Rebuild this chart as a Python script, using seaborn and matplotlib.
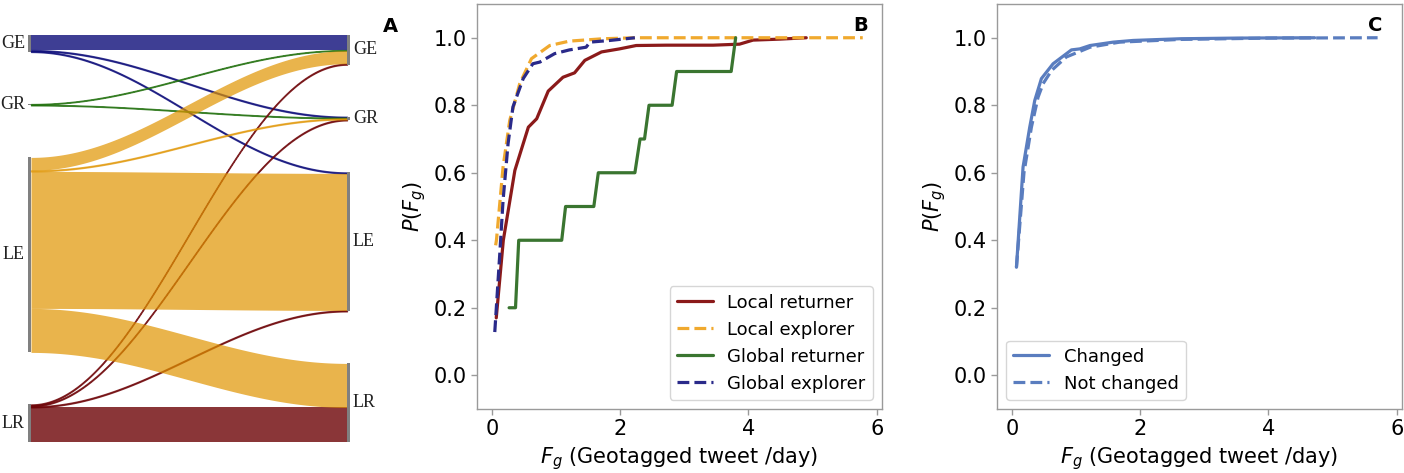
import numpy as np
import pandas as pd
import seaborn as sns
import matplotlib.pyplot as plt

# ---------------- data ----------------
# Panel A: class transitions (left = before, right = after)
classes = ["GE", "GR", "LE", "LR"]
flow_src = ["GE", "GE", "GE", "GR", "GR", "LE", "LE", "LE", "LE", "LR", "LR", "LR", "LR"]
flow_dst = ["GE", "GR", "LE", "GE", "GR", "GE", "GR", "LE", "LR", "GE", "GR", "LE", "LR"]
flow_val = [15, 1, 1, 0.7, 0.7, 13, 1, 137, 44, 1, 1, 1, 35]
class_colors = {"GE": "#0d0d7a", "GR": "#1e6e0a", "LE": "#e09400", "LR": "#6d0306"}
class_alpha = {"GE": 0.8, "GR": 0.8, "LE": 0.7, "LR": 0.8}
draw_order = ["GE", "GR", "LR", "LE"]

# Panel B: CDF of geotagged tweet frequency per mobility class
lr_x = [0.07, 0.18, 0.36, 0.57, 0.70, 0.88, 1.11, 1.29, 1.45, 1.71, 1.99, 2.25, 2.72, 3.45, 3.86, 4.07, 4.50, 4.90]
lr_y = [0.17, 0.40, 0.607, 0.735, 0.76, 0.842, 0.883, 0.896, 0.933, 0.958, 0.967, 0.977, 0.978, 0.978, 0.981, 0.993, 0.996, 1.0]

le_x = [0.06, 0.073, 0.176, 0.28, 0.436, 0.618, 0.903, 1.21, 1.73, 2.25, 3.5, 5.78]
le_y = [0.385, 0.40, 0.617, 0.755, 0.864, 0.938, 0.977, 0.99, 0.997, 1.0, 1.0, 1.0]

gr_x = [0.27, 0.37, 0.42, 1.09, 1.15, 1.59, 1.66, 2.23, 2.31, 2.38, 2.45, 2.81, 2.88, 3.73, 3.80]
gr_y = [0.2, 0.2, 0.4, 0.4, 0.5, 0.5, 0.6, 0.6, 0.7, 0.7, 0.8, 0.8, 0.9, 0.9, 1.0]

ge_x = [0.047, 0.125, 0.176, 0.254, 0.33, 0.49, 0.64, 0.75, 0.98, 1.21, 1.47, 1.53, 1.84, 2.23]
ge_y = [0.128, 0.36, 0.518, 0.686, 0.795, 0.879, 0.923, 0.928, 0.953, 0.964, 0.972, 0.987, 0.992, 1.0]

# Panel C: changed vs not changed
ch_x = [0.073, 0.176, 0.28, 0.358, 0.462, 0.644, 0.93, 1.06, 1.22, 1.58, 1.89, 2.62, 3.5, 4.72]
ch_y = [0.32, 0.617, 0.735, 0.814, 0.879, 0.923, 0.964, 0.967, 0.977, 0.987, 0.992, 0.997, 0.999, 1.0]

nc_x = [0.073, 0.19, 0.306, 0.41, 0.488, 0.62, 0.85, 1.22, 1.68, 2.62, 4.0, 5.70]
nc_y = [0.32, 0.60, 0.735, 0.824, 0.864, 0.903, 0.943, 0.972, 0.987, 0.995, 0.999, 1.0]

# ---------------- style ----------------
sns.set_style("ticks")
plt.rcParams["font.family"] = ["DejaVu Sans"]
plt.rcParams["text.color"] = "black"
plt.rcParams["axes.labelcolor"] = "black"
plt.rcParams["axes.edgecolor"] = "#9a9a9a"
plt.rcParams["xtick.color"] = "#9a9a9a"
plt.rcParams["ytick.color"] = "#9a9a9a"
plt.rcParams["xtick.labelcolor"] = "black"
plt.rcParams["ytick.labelcolor"] = "black"

fig = plt.figure(figsize=(14.04, 4.73), dpi=100)

# ---------------- panel A: sankey ----------------
axA = fig.add_axes([0, 0, 420 / 1404, 1])
axA.axis("off")
axA.set_xlim(-28, 392)
axA.set_ylim(438, -35)

gap = 52
x_left, x_right = 3, 319

flows = pd.DataFrame({"src": flow_src, "dst": flow_dst, "val": flow_val})
left_size = flows.groupby("src")["val"].sum().reindex(classes)
right_size = flows.groupby("dst")["val"].sum().reindex(classes)

left_top, right_top = {}, {}
pos = 0
for c in classes:
    left_top[c] = pos
    pos += left_size[c] + gap
pos = 0
for c in classes:
    right_top[c] = pos
    pos += right_size[c] + gap

# stacking offsets of each flow inside its nodes
left_off = dict(left_top)
right_off = dict(right_top)
bands = {}
for src in classes:
    for dst in classes:
        sel = flows[(flows.src == src) & (flows.dst == dst)]
        if len(sel) == 0:
            continue
        v = sel.val.iloc[0]
        bands[(src, dst)] = (left_off[src], right_off[dst], v)
        left_off[src] += v
        right_off[dst] += v

t = np.linspace(0, 1, 200)
s = 0.5 - 0.5 * np.cos(np.pi * t)
xs = x_left + (x_right - x_left) * t
for src in draw_order:
    for dst in classes:
        if (src, dst) not in bands:
            continue
        y0, y1, v = bands[(src, dst)]
        top = y0 + (y1 - y0) * s
        axA.fill_between(xs, top, top + v, color=class_colors[src], alpha=class_alpha[src],
                         lw=0.9 if v < 5 else 0, edgecolor=class_colors[src])

for c in classes:
    axA.fill_between([0, 3], left_top[c], left_top[c] + left_size[c], color="#808080", lw=0)
    axA.fill_between([319, 322], right_top[c], right_top[c] + right_size[c], color="#808080", lw=0)
    axA.text(-3, left_top[c] + left_size[c] / 2, c, ha="right", va="center", color="#222222",
             fontsize=13, family=["Liberation Serif", "DejaVu Serif"])
    axA.text(325, right_top[c] + right_size[c] / 2, c, ha="left", va="center", color="#222222",
             fontsize=13, family=["Liberation Serif", "DejaVu Serif"])

fig.text(390 / 1404, 1 - 27 / 473, "A", ha="center", va="center", fontsize=14, fontweight="bold")

# ---------------- panel B ----------------
axB = fig.add_axes([477 / 1404, 1 - 409 / 473, 405 / 1404, 405 / 473])
lw = 2.3
sns.lineplot(x=lr_x, y=lr_y, ax=axB, color="#8b1a1a", lw=lw, sort=False, estimator=None, label="Local returner")
sns.lineplot(x=le_x, y=le_y, ax=axB, color="#f0a92e", lw=lw, ls="--", sort=False, estimator=None, label="Local explorer")
sns.lineplot(x=gr_x, y=gr_y, ax=axB, color="#3a7530", lw=lw, sort=False, estimator=None, label="Global returner")
sns.lineplot(x=ge_x, y=ge_y, ax=axB, color="#2a2a8a", lw=lw, ls="--", sort=False, estimator=None, label="Global explorer")
axB.legend(loc="lower right", fontsize=13, frameon=True, fancybox=True, edgecolor="#cccccc")
axB.text(0.946, 0.948, "B", transform=axB.transAxes, ha="center", va="center", fontsize=14, fontweight="bold")

# ---------------- panel C ----------------
axC = fig.add_axes([997 / 1404, 1 - 409 / 473, 405 / 1404, 405 / 473])
sns.lineplot(x=ch_x, y=ch_y, ax=axC, color="#5a7dbf", lw=lw, sort=False, estimator=None, label="Changed")
sns.lineplot(x=nc_x, y=nc_y, ax=axC, color="#5a7dbf", lw=lw, ls="--", sort=False, estimator=None, label="Not changed")
axC.legend(loc="lower left", fontsize=13, frameon=True, fancybox=True, edgecolor="#cccccc")
axC.text(0.933, 0.948, "C", transform=axC.transAxes, ha="center", va="center", fontsize=14, fontweight="bold")

for ax in (axB, axC):
    ax.set_xlim(-0.23, 6.08)
    ax.set_ylim(-0.1, 1.1)
    ax.set_xticks([0, 2, 4, 6])
    ax.set_yticks([0.0, 0.2, 0.4, 0.6, 0.8, 1.0])
    ax.tick_params(labelsize=15, length=4, width=1)
    ax.set_xlabel("$F_g$ (Geotagged tweet /day)", fontsize=15)
    ax.set_ylabel("$P(F_g)$", fontsize=15)
    for sp in ax.spines.values():
        sp.set_visible(True)
        sp.set_linewidth(1)

fig.savefig("out.png", dpi=100)
